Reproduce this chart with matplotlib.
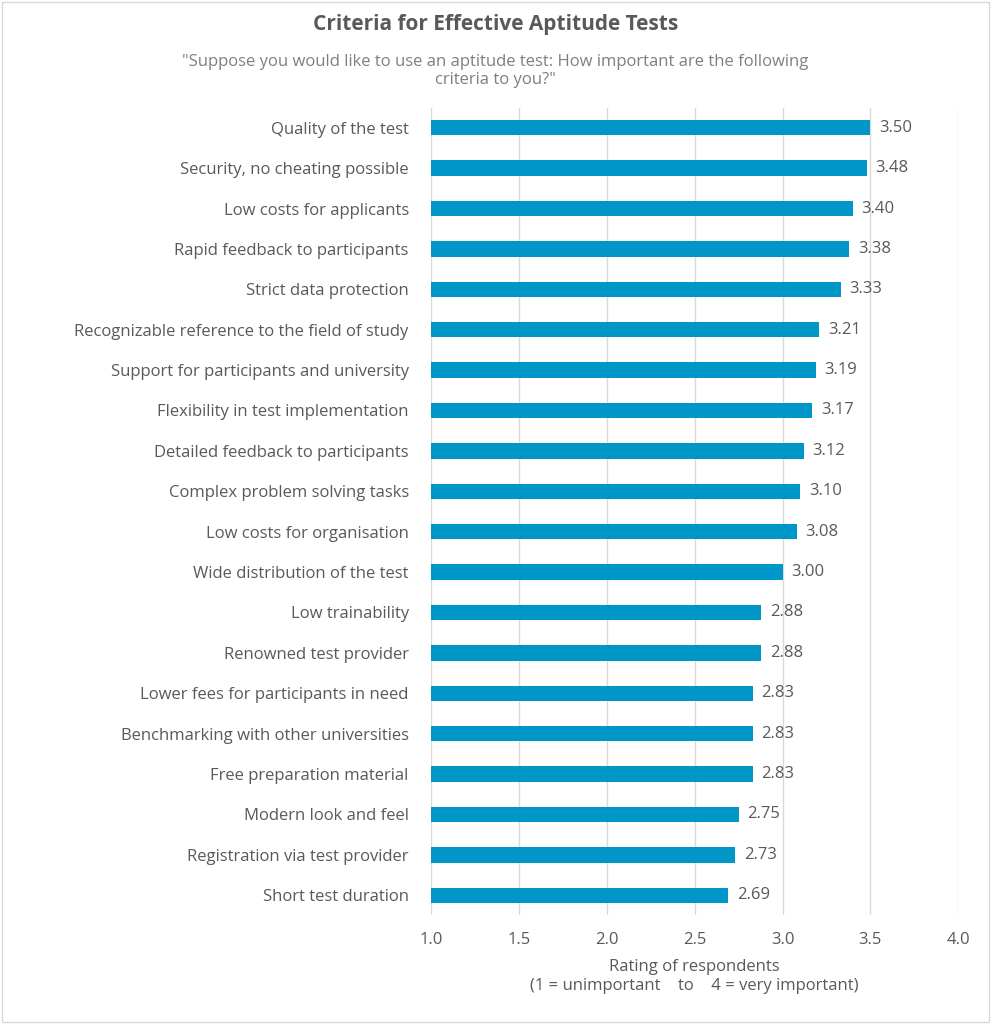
import matplotlib
matplotlib.use("Agg")
import matplotlib.pyplot as plt
from matplotlib.patches import Rectangle

categories = ["Quality of the test","Security, no cheating possible","Low costs for applicants",
"Rapid feedback to participants","Strict data protection","Recognizable reference to the field of study",
"Support for participants and university","Flexibility in test implementation","Detailed feedback to participants",
"Complex problem solving tasks","Low costs for organisation","Wide distribution of the test","Low trainability",
"Renowned test provider","Lower fees for participants in need","Benchmarking with other universities",
"Free preparation material","Modern look and feel","Registration via test provider","Short test duration"]
values = [3.50,3.48,3.40,3.38,3.33,3.21,3.19,3.17,3.12,3.10,3.08,3.00,2.88,2.88,2.83,2.83,2.83,2.75,2.73,2.69]
xticks = [1.0,1.5,2.0,2.5,3.0,3.5,4.0]

plt.rcParams['font.family'] = ['Open Sans', 'DejaVu Sans']
tc = '#595959'
fig = plt.figure(figsize=(9.91,10.24), dpi=100)
ax = fig.add_axes([0.435,0.106,0.532,0.789])
y = list(range(len(categories)))
ax.barh(y, [v-1.0 for v in values], left=1.0, height=0.38, color='#0096C8', zorder=3)
for yi, v in zip(y, values):
    ax.text(v+0.05, yi, f"{v:.2f}", va='center', ha='left', fontsize=12, color=tc)
ax.set_ylim(len(categories)-0.5, -0.5)
ax.set_xlim(1.0, 4.0)
ax.set_yticks(y)
ax.set_yticklabels(categories, fontsize=12, color=tc)
ax.set_xticks(xticks)
ax.set_xticklabels([f"{t:.1f}" for t in xticks], fontsize=12, color=tc)
ax.tick_params(length=0, pad=16, axis='y')
ax.tick_params(length=0, pad=12, axis='x')
ax.grid(axis='x', color='#D9D9D9', lw=1, zorder=0)
for s in ax.spines.values():
    s.set_visible(False)
ax.set_xlabel("Rating of respondents\n(1 = unimportant    to    4 = very important)", fontsize=12, color=tc, labelpad=8)
fig.text(0.5, 0.971, "Criteria for Effective Aptitude Tests", ha='center', fontsize=15, fontweight='bold', color=tc)
fig.text(0.5, 0.918, "\"Suppose you would like to use an aptitude test: How important are the following\ncriteria to you?\"", ha='center', fontsize=12, color='#7f7f7f', linespacing=1.2)
fig.patches.append(Rectangle((0.002,0.002),0.996,0.996, transform=fig.transFigure, fill=False, ec='#D9D9D9', lw=1))
fig.savefig("out.png", dpi=100, facecolor='white')
